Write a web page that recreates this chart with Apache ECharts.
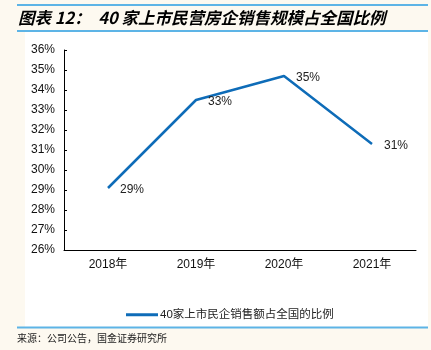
<!DOCTYPE html>
<html>
<head>
<meta charset="utf-8">
<script src="https://cdn.jsdelivr.net/npm/echarts@6/dist/echarts.min.js"></script>
<style>
  html, body { margin: 0; padding: 0; background: #fdf9f0; }
  #chart { width: 431px; height: 350px; }
</style>
</head>
<body>
<div id="chart"></div>
<script>
// chart values
const years = ["2018年", "2019年", "2020年", "2021年"];
const shareValues = [29.1, 33.5, 34.7, 31.3];
const shareLabels = ["29%", "33%", "35%", "31%"];
const seriesName = "40家上市民企销售额占全国的比例";
const titleText = "图表 12：  40 家上市民营房企销售规模占全国比例";
const sourceText = "来源：公司公告，国金证券研究所";

const chart = echarts.init(document.getElementById("chart"));
const blue = "#0e6cb8";
const frameBlue = "#5db4e6";

const option = {
    backgroundColor: "#fdf9f0",
    animation: false,
    textStyle: { fontFamily: "Liberation Sans, Noto Sans CJK SC, sans-serif" },
    graphic: [
        { type: "rect", silent: true, z: -10, shape: { x: 25, y: 32, width: 403, height: 295 }, style: { fill: "#ffffff" } },
        { type: "line", silent: true, shape: { x1: 17, y1: 5, x2: 428, y2: 5 }, style: { stroke: frameBlue, lineWidth: 2 } },
        { type: "line", silent: true, shape: { x1: 17, y1: 31, x2: 428, y2: 31 }, style: { stroke: frameBlue, lineWidth: 2 } },
        { type: "line", silent: true, shape: { x1: 17, y1: 327.5, x2: 428, y2: 327.5 }, style: { stroke: frameBlue, lineWidth: 2 } },
        {
            type: "text", left: 18, top: 9,
            style: { text: titleText, fill: "#000", font: "italic bold 16.5px 'Noto Sans CJK SC', sans-serif" }
        },
        {
            type: "text", left: 17, top: 333,
            style: { text: sourceText, fill: "#222", font: "10px 'Noto Sans CJK SC', serif" }
        }
    ],
    legend: {
        left: 121,
        top: 304,
        icon: "rect",
        itemWidth: 32,
        itemHeight: 3,
        itemGap: 10,
        textStyle: { color: "#222", fontSize: 11.5, padding: [0, 0, 0, -3] },
        data: [seriesName]
    },
    grid: { left: 64, right: 15, top: 50, bottom: 100 },
    xAxis: {
        type: "category",
        data: years,
        boundaryGap: true,
        axisLine: { lineStyle: { color: "#000", width: 1 } },
        axisTick: { inside: true, length: 3, lineStyle: { color: "#000" } },
        axisLabel: { color: "#111", fontSize: 12, margin: 9 }
    },
    yAxis: {
        type: "value",
        min: 26,
        max: 36,
        interval: 1,
        axisLine: { show: true, lineStyle: { color: "#000", width: 1 } },
        axisTick: { show: true, inside: true, length: 3, lineStyle: { color: "#000" } },
        axisLabel: { color: "#111", fontSize: 12, margin: 9, formatter: "{value}%" },
        splitLine: { show: false }
    },
    series: [
        {
            name: seriesName,
            type: "line",
            data: shareValues,
            symbol: "circle",
            symbolSize: 0,
            showSymbol: true,
            lineStyle: { color: blue, width: 2.5 },
            itemStyle: { color: blue },
            label: {
                show: true,
                position: "right",
                distance: 12,
                offset: [0, 2],
                color: "#222",
                fontSize: 12,
                formatter: (p) => shareLabels[p.dataIndex]
            }
        }
    ]
};

chart.setOption(option);
</script>
</body>
</html>
